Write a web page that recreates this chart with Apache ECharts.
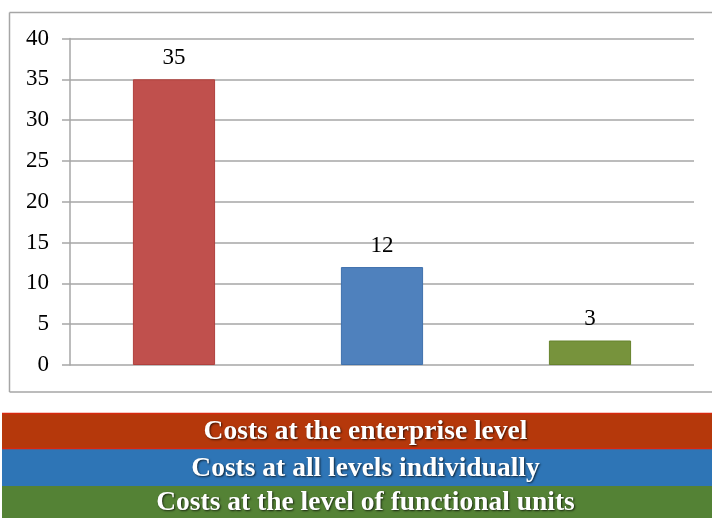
<!DOCTYPE html>
<html>
<head>
<meta charset="utf-8">
<script src="https://cdn.jsdelivr.net/npm/echarts@6/dist/echarts.min.js"></script>
<style>
  html, body { margin: 0; padding: 0; background: #fff; }
  #chart { width: 712px; height: 518px; }
</style>
</head>
<body>
<div id="chart"></div>
<script>
// Cost categories and their values
const categories = [
  'Costs at the enterprise level',
  'Costs at all levels individually',
  'Costs at the level of functional units'
];
const values = [35, 12, 3];
const barColors = ['#C0504D', '#4F81BD', '#77933C'];
const barBorders = ['#B0403D', '#3F71AD', '#67832C'];
const bandColors = ['#B5380B', '#2E75B6', '#548235'];

const serif = '"Liberation Serif", "DejaVu Serif", serif';

const chart = echarts.init(document.getElementById('chart'));

// Legend bands drawn underneath the plot box
const bandTop = [413, 449, 486];
const bandHeight = [36, 37, 32];
const bands = categories.map((name, i) => ({
  type: 'rect',
  left: 2,
  top: bandTop[i],
  shape: { width: 710, height: bandHeight[i] },
  style: { fill: bandColors[i] },
  silent: true
}));
const bandTexts = categories.map((name, i) => ({
  type: 'text',
  x: 365.5,
  y: bandTop[i] + bandHeight[i] / 2 + 1,
  style: {
    text: name,
    fill: '#ffffff',
    font: 'bold 27.5px ' + serif,
    align: 'center',
    verticalAlign: 'middle',
    textShadowColor: 'rgba(0,0,0,0.7)',
    textShadowBlur: 2,
    textShadowOffsetX: 1,
    textShadowOffsetY: 1
  },
  silent: true
}));

chart.setOption({
  animation: false,
  backgroundColor: '#ffffff',
  grid: { left: 70, right: 18, top: 38.5, bottom: 153 },
  xAxis: {
    type: 'category',
    data: categories,
    axisLine: { show: false },
    axisTick: { show: false },
    axisLabel: { show: false }
  },
  yAxis: {
    type: 'value',
    min: 0,
    max: 40,
    interval: 5,
    axisLine: { show: true, lineStyle: { color: '#A6A6A6', width: 1.5 } },
    axisTick: { show: true, length: 8, lineStyle: { color: '#A6A6A6', width: 1.5 } },
    axisLabel: { margin: 21, color: '#000', fontFamily: serif, fontSize: 23 },
    splitLine: { show: true, lineStyle: { color: '#A6A6A6', width: 1.5 } }
  },
  series: [{
    type: 'bar',
    barWidth: '39.5%',
    data: values.map((v, i) => ({
      value: v,
      itemStyle: { color: barColors[i], borderColor: barBorders[i], borderWidth: 1 }
    })),
    label: {
      show: true,
      position: 'top',
      distance: 10,
      color: '#000',
      fontFamily: serif,
      fontSize: 23
    }
  }],
  graphic: [
    // plot box frame: top, left and bottom edges
    { type: 'line', shape: { x1: 9.5, y1: 12.5, x2: 712, y2: 12.5 }, style: { stroke: '#A6A6A6', lineWidth: 1.5 }, silent: true },
    { type: 'line', shape: { x1: 9.5, y1: 12.5, x2: 9.5, y2: 392 }, style: { stroke: '#A6A6A6', lineWidth: 1.5 }, silent: true },
    { type: 'line', shape: { x1: 9.5, y1: 392, x2: 712, y2: 392 }, style: { stroke: '#A6A6A6', lineWidth: 1.5 }, silent: true },
    ...bands,
    // thin bright edges on the first band
    { type: 'line', shape: { x1: 2, y1: 413.5, x2: 712, y2: 413.5 }, style: { stroke: '#D8280F', lineWidth: 1.5 }, silent: true },
    { type: 'line', shape: { x1: 2, y1: 448.5, x2: 712, y2: 448.5 }, style: { stroke: '#D8280F', lineWidth: 1.5 }, silent: true },
    ...bandTexts
  ]
});
</script>
</body>
</html>
